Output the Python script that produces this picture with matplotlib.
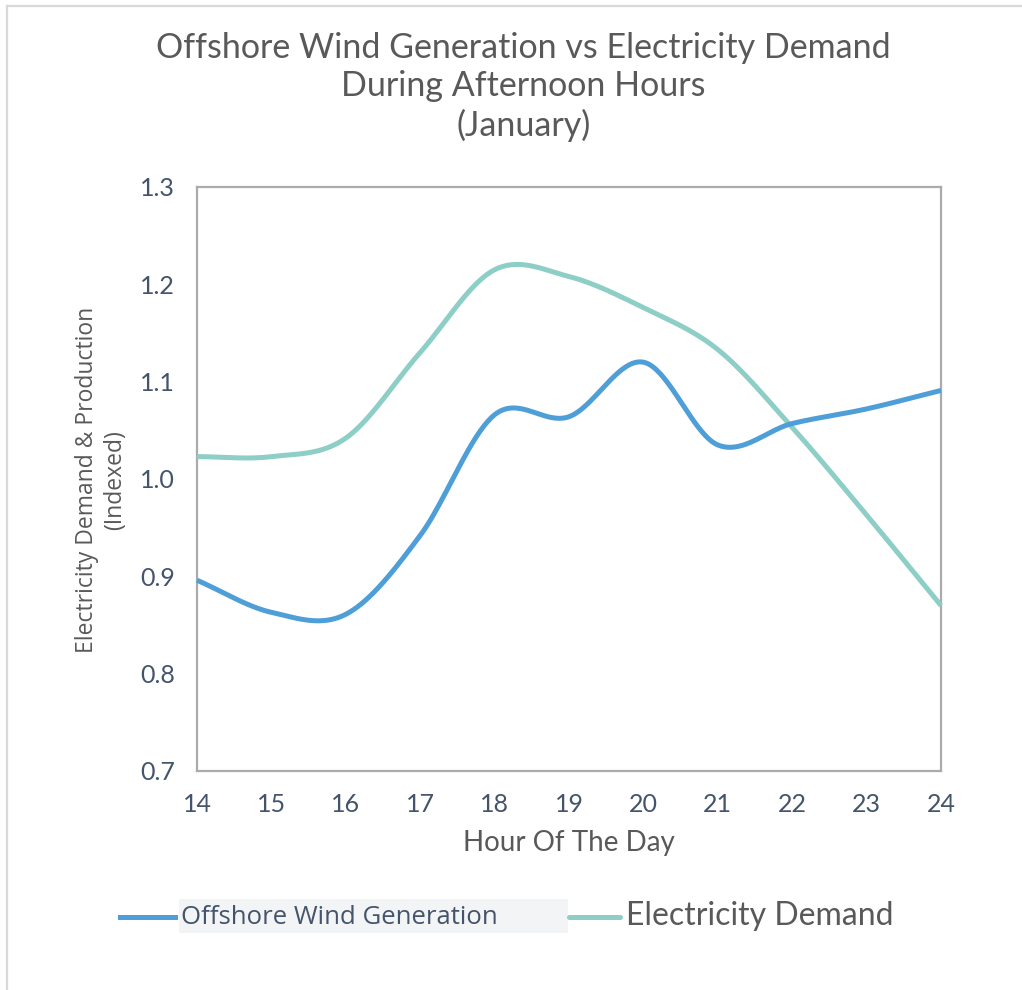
import numpy as np
import matplotlib
matplotlib.use("Agg")
import matplotlib.pyplot as plt
from matplotlib.lines import Line2D
from matplotlib.patches import Rectangle

hours = [14, 15, 16, 17, 18, 19, 20, 21, 22, 23, 24]
wind_generation = [0.896, 0.863, 0.861, 0.942, 1.066, 1.064, 1.120, 1.035, 1.057, 1.072, 1.091]
electricity_demand = [1.023, 1.023, 1.042, 1.130, 1.215, 1.208, 1.176, 1.133, 1.053, 0.963, 0.870]
x_ticks = list(range(14, 25))
y_ticks = [0.7, 0.8, 0.9, 1.0, 1.1, 1.2, 1.3]

WIND_COLOR = "#4E9ED7"
DEMAND_COLOR = "#8DCEC6"
TEXT_GRAY = "#595959"
TICK_COLOR = "#44546A"


def smooth(xs, ys, n=40):
    """Catmull-Rom style smoothing through every point."""
    xs = np.asarray(xs, float)
    ys = np.asarray(ys, float)
    px = np.concatenate([[2 * xs[0] - xs[1]], xs, [2 * xs[-1] - xs[-2]]])
    py = np.concatenate([[2 * ys[0] - ys[1]], ys, [2 * ys[-1] - ys[-2]]])
    out_x, out_y = [], []
    t = np.linspace(0, 1, n)
    for i in range(1, len(px) - 2):
        p0x, p1x, p2x, p3x = px[i - 1:i + 3]
        p0y, p1y, p2y, p3y = py[i - 1:i + 3]
        # Bezier control points with 1/6 tension
        c1x, c1y = p1x + (p2x - p0x) / 6, p1y + (p2y - p0y) / 6
        c2x, c2y = p2x - (p3x - p1x) / 6, p2y - (p3y - p1y) / 6
        bx = (1 - t) ** 3 * p1x + 3 * (1 - t) ** 2 * t * c1x + 3 * (1 - t) * t ** 2 * c2x + t ** 3 * p2x
        by = (1 - t) ** 3 * p1y + 3 * (1 - t) ** 2 * t * c1y + 3 * (1 - t) * t ** 2 * c2y + t ** 3 * p2y
        out_x.extend(bx if i == 1 else bx[1:])
        out_y.extend(by if i == 1 else by[1:])
    return np.array(out_x), np.array(out_y)


W, H = 1022, 990
fig = plt.figure(figsize=(W / 100, H / 100), dpi=100)
fig.patch.set_facecolor("white")

# outer chart-area border (top and left edges)
fig.add_artist(Line2D([7 / W, 1], [1 - 6 / H, 1 - 6 / H], color="#D9D9D9", lw=1.6))
fig.add_artist(Line2D([7 / W, 7 / W], [0, 1 - 6 / H], color="#D9D9D9", lw=1.6))

left, right, top, bottom = 197, 941, 187, 771
ax = fig.add_axes([left / W, 1 - bottom / H, (right - left) / W, (bottom - top) / H])

sx, sy = smooth(hours, electricity_demand)
ax.plot(sx, sy, color=DEMAND_COLOR, lw=3.6, solid_capstyle="butt", clip_on=False, zorder=3)
sx, sy = smooth(hours, wind_generation)
ax.plot(sx, sy, color=WIND_COLOR, lw=3.6, solid_capstyle="butt", clip_on=False, zorder=4)

ax.set_xlim(14, 24)
ax.set_ylim(0.7, 1.3)
ax.set_xticks(x_ticks)
ax.set_yticks(y_ticks)
ax.set_xticklabels([str(v) for v in x_ticks])
ax.set_yticklabels([f"{v:.1f}" for v in y_ticks])
ax.tick_params(length=0, labelsize=18, labelcolor=TICK_COLOR)
ax.tick_params(axis="x", pad=16)
ax.tick_params(axis="y", pad=16)
for lab in ax.get_xticklabels() + ax.get_yticklabels():
    lab.set_fontfamily("Lato")
for sp in ax.spines.values():
    sp.set_color("#ABABAB")
    sp.set_linewidth(1.6)

ax.set_xlabel("Hour Of The Day", fontsize=20, color=TEXT_GRAY, family="Lato",
              labelpad=10)
fig.text(101 / W, 1 - 480 / H, "Electricity Demand & Production\n(Indexed)",
         rotation=90, ha="center", va="center", fontsize=16.5, color=TEXT_GRAY,
         family="Open Sans", linespacing=1.2, multialignment="center")

fig.text(0.512, 1 - 87 / H,
         "Offshore Wind Generation vs Electricity Demand\nDuring Afternoon Hours\n(January)",
         ha="center", va="center", fontsize=24.5, color=TEXT_GRAY, family="Lato",
         linespacing=1.25)

# legend
ly = 1 - 917 / H
fig.add_artist(Line2D([120 / W, 175 / W], [ly, ly], color=WIND_COLOR, lw=3.6))
fig.add_artist(Rectangle((179 / W, 1 - 933 / H), (568 - 179) / W, 34 / H,
                         transform=fig.transFigure, fc="#F3F4F6", ec="none"))
fig.text(181 / W, ly, "Offshore Wind Generation", ha="left", va="center",
         fontsize=18.5, color=TICK_COLOR, family="Open Sans")
fig.add_artist(Line2D([569 / W, 620 / W], [ly, ly], color=DEMAND_COLOR, lw=3.6,
                      solid_capstyle="round"))
fig.text(626 / W, ly + 1 / H, "Electricity Demand", ha="left", va="center",
         fontsize=23, color=TEXT_GRAY, family="Lato")

fig.savefig("out.png", dpi=100, facecolor="white")
